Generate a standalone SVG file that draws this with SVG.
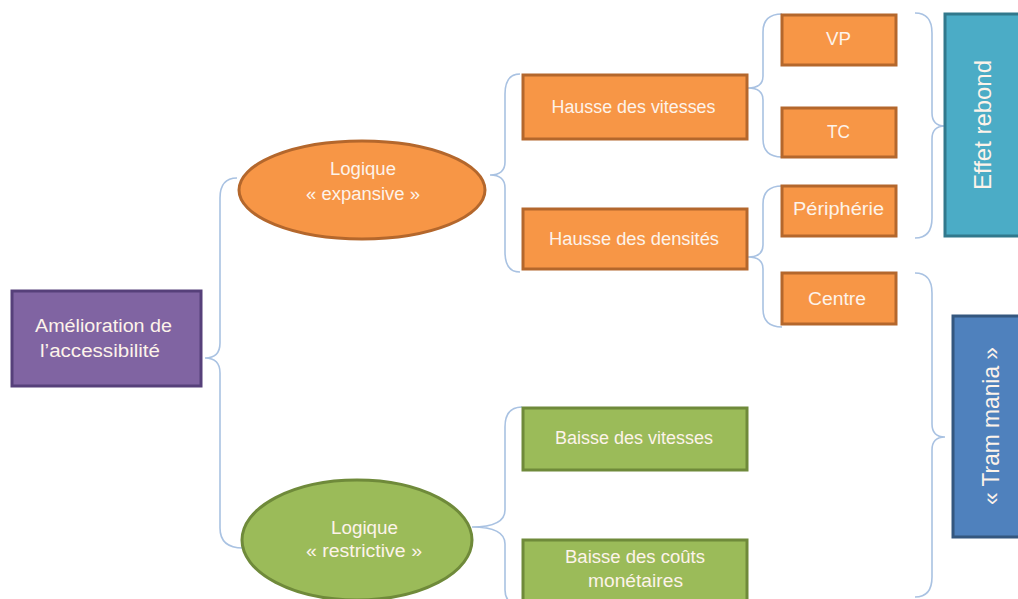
<svg xmlns="http://www.w3.org/2000/svg" width="1018" height="599" viewBox="0 0 1018 599">
<style>
text{font-family:"Liberation Sans",Arial,sans-serif;fill:#fdf3ea;text-anchor:middle;font-size:18px}
.brace{fill:none;stroke:#a9c2e2;stroke-width:1.6}
.or{fill:#f79646;stroke:#b4672c;stroke-width:3}
.gr{fill:#9bbb59;stroke:#6f8a3a;stroke-width:3}
.pu{fill:#8064a2;stroke:#56407a;stroke-width:3}
.cy{fill:#4bacc6;stroke:#31788c;stroke-width:3}
.bl{fill:#4f81bd;stroke:#34577f;stroke-width:3}
.big{font-size:24px}
</style>
<rect width="1018" height="599" fill="#ffffff"/>
<g id="connectors">
<path class="brace" d="M237,178 Q220,178 220,198 L220,343 Q220,358 205,358 Q220,358 220,373 L220,528 Q220,548 243,548"/>
<path class="brace" d="M520,74 Q505,74 505,94 L505,162 Q505,175 490,175 Q505,175 505,188 L505,252 Q505,272 520,272"/>
<path class="brace" d="M782,14 Q763,14 763,32 L763,76 Q763,88 748,88 Q763,88 763,100 L763,139 Q763,157 782,157"/>
<path class="brace" d="M782,186 Q763,186 763,204 L763,245 Q763,257 748,257 Q763,257 763,269 L763,309 Q763,327 782,327"/>
<path class="brace" d="M915,13 Q932,13 932,33 L932,113 Q932,126 945,126 Q932,126 932,139 L932,218 Q932,238 915,238"/>
<path class="brace" d="M915,273 Q932,273 932,293 L932,424 Q932,437 945,437 Q932,437 932,450 L932,577 Q932,597 915,597"/>
<path class="brace" d="M522,407 Q505,407 505,427 L505,510 Q505,527 472,527 Q505,527 505,544 L505,590 Q505,605 522,605"/>
</g>
<g id="n-amelioration">
<rect class="pu" x="12" y="291" width="189" height="95"/>
<text x="103.5" y="332" textLength="137" lengthAdjust="spacingAndGlyphs">Amélioration de</text>
<text x="100" y="357" textLength="120" lengthAdjust="spacingAndGlyphs">l’accessibilité</text>
</g>
<g id="n-expansive">
<ellipse class="or" cx="362" cy="190" rx="123" ry="49"/>
<text x="363" y="175" textLength="66" lengthAdjust="spacingAndGlyphs">Logique</text>
<text x="363" y="200" textLength="114" lengthAdjust="spacingAndGlyphs">« expansive »</text>
</g>
<g id="n-restrictive">
<ellipse class="gr" cx="357" cy="540" rx="115" ry="60"/>
<text x="364.5" y="534" textLength="67" lengthAdjust="spacingAndGlyphs">Logique</text>
<text x="364" y="557" textLength="116" lengthAdjust="spacingAndGlyphs">« restrictive »</text>
</g>
<g id="n-hausse-vitesses">
<rect class="or" x="523" y="75" width="224" height="64"/>
<text x="633.5" y="113" textLength="164" lengthAdjust="spacingAndGlyphs">Hausse des vitesses</text>
</g>
<g id="n-hausse-densites">
<rect class="or" x="523" y="209" width="224" height="60"/>
<text x="634" y="245" textLength="170" lengthAdjust="spacingAndGlyphs">Hausse des densités</text>
</g>
<g id="n-vp">
<rect class="or" x="782" y="15" width="114" height="50"/>
<text x="838.5" y="45" textLength="25" lengthAdjust="spacingAndGlyphs">VP</text>
</g>
<g id="n-tc">
<rect class="or" x="782" y="108" width="114" height="49"/>
<text x="838.5" y="138" textLength="23" lengthAdjust="spacingAndGlyphs">TC</text>
</g>
<g id="n-peripherie">
<rect class="or" x="782" y="186" width="114" height="50"/>
<text x="838.5" y="215" textLength="91" lengthAdjust="spacingAndGlyphs">Périphérie</text>
</g>
<g id="n-centre">
<rect class="or" x="782" y="273" width="114" height="51"/>
<text x="837" y="305" textLength="58" lengthAdjust="spacingAndGlyphs">Centre</text>
</g>
<g id="n-baisse-vitesses">
<rect class="gr" x="523" y="408" width="224" height="62"/>
<text x="634" y="444" textLength="158" lengthAdjust="spacingAndGlyphs">Baisse des vitesses</text>
</g>
<g id="n-baisse-couts">
<rect class="gr" x="523" y="540" width="224" height="64"/>
<text x="635" y="563" textLength="140" lengthAdjust="spacingAndGlyphs">Baisse des coûts</text>
<text x="635.5" y="587" textLength="95" lengthAdjust="spacingAndGlyphs">monétaires</text>
</g>
<g id="n-effet-rebond">
<rect class="cy" x="945" y="14" width="80" height="222"/>
<text class="big" transform="translate(991,125) rotate(-90)" textLength="130" lengthAdjust="spacingAndGlyphs">Effet rebond</text>
</g>
<g id="n-tram-mania">
<rect class="bl" x="953" y="316" width="72" height="221"/>
<text class="big" transform="translate(999,426) rotate(-90)" textLength="158" lengthAdjust="spacingAndGlyphs">« Tram mania »</text>
</g>
</svg>
